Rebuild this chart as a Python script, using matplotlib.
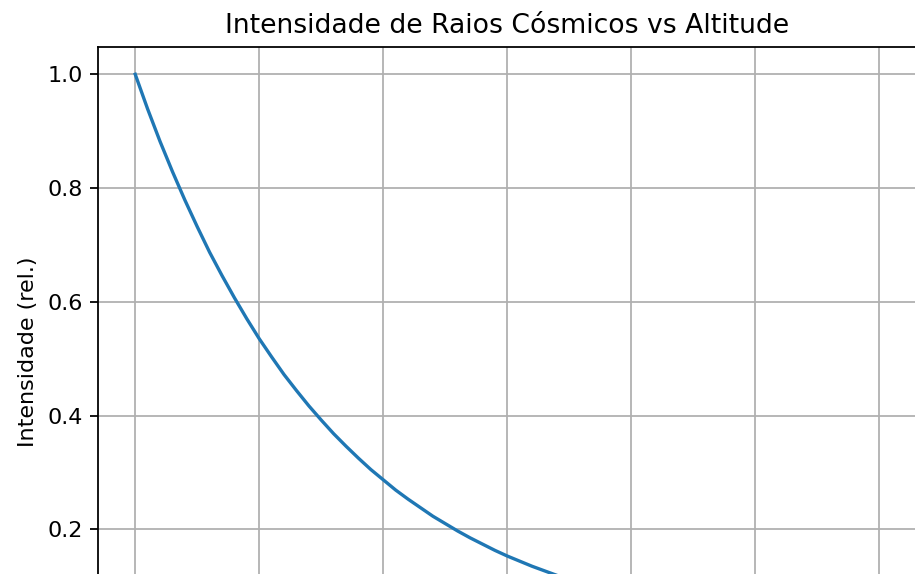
import matplotlib
matplotlib.use("Agg")
from matplotlib import pyplot as plt

# altitude (km) and relative cosmic-ray intensity
altitude = [0, 0.5, 1, 1.5, 2, 2.5, 3, 3.5, 4, 4.5, 5, 5.5, 6, 6.5, 7, 7.5,
            8, 8.5, 9, 9.5, 10, 10.5, 11, 11.5, 12, 12.5, 13, 13.5, 14, 14.5,
            15, 15.5, 16, 16.5, 17, 17.5, 18, 18.5, 19, 19.5, 20, 20.5, 21,
            21.5, 22, 22.5, 23, 23.5, 24, 24.5, 25, 25.5, 26, 26.5, 27, 27.5,
            28, 28.5, 29, 29.5, 30]
intensity = [1.000, 0.939, 0.882, 0.829, 0.779, 0.732, 0.687, 0.646, 0.607,
             0.570, 0.535, 0.503, 0.472, 0.444, 0.417, 0.392, 0.368, 0.346,
             0.325, 0.305, 0.287, 0.269, 0.253, 0.238, 0.223, 0.210, 0.197,
             0.185, 0.174, 0.163, 0.153, 0.144, 0.135, 0.127, 0.119, 0.112,
             0.105, 0.099, 0.093, 0.087, 0.082, 0.077, 0.072, 0.068, 0.064,
             0.060, 0.056, 0.053, 0.050, 0.047, 0.044, 0.041, 0.039, 0.036,
             0.034, 0.032, 0.030, 0.028, 0.027, 0.025, 0.0235]

W, H, DPI = 915, 574, 160
fig = plt.figure(figsize=(W / DPI, H / DPI), dpi=DPI)

# the reference is a crop: axes run past the right and bottom edges
left, right, top, bottom = 98, 916.7, 46.5, 657.5
ax = fig.add_axes([left / W, 1 - bottom / H, (right - left) / W, (bottom - top) / H])

ax.plot(altitude, intensity)
ax.set_title("Intensidade de Raios Cósmicos vs Altitude")
ax.set_xlabel("Altitude (km)")
ax.set_ylabel("Intensidade (rel.)")
ax.grid(True)

fig.savefig("out.png", dpi=DPI)
